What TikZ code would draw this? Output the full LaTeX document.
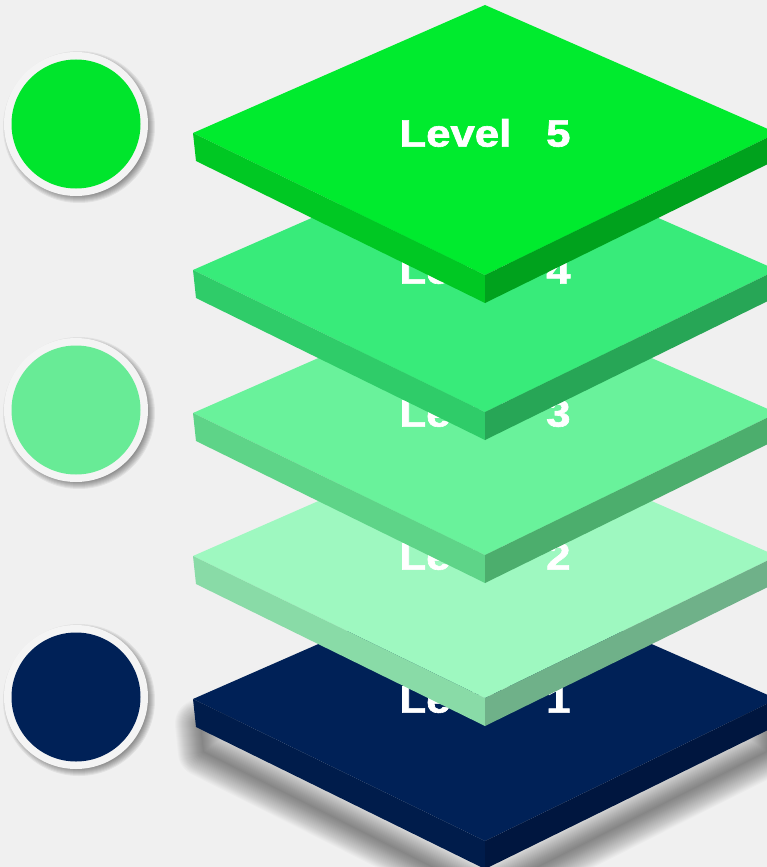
\documentclass[tikz,border=0pt]{standalone}
\usepackage{fontspec}
\setmainfont{Liberation Sans}[BoldFeatures={FakeBold=1.6}]

\definecolor{bgcol}{HTML}{F0F0F0}
\definecolor{ringcol}{HTML}{F4F4F4}
% mặt trên, mặt trái, mặt phải của từng tầng
\definecolor{top5}{HTML}{00EB2E}
\definecolor{lft5}{HTML}{00C823}
\definecolor{rgt5}{HTML}{00A21D}
\definecolor{top4}{HTML}{38EB7A}
\definecolor{lft4}{HTML}{2FCC69}
\definecolor{rgt4}{HTML}{27A656}
\definecolor{top3}{HTML}{69F29B}
\definecolor{lft3}{HTML}{5ED488}
\definecolor{rgt3}{HTML}{4CAE6D}
\definecolor{top2}{HTML}{9EF8C0}
\definecolor{lft2}{HTML}{89DBA7}
\definecolor{rgt2}{HTML}{6FB189}
\definecolor{top1}{HTML}{002157}
\definecolor{lft1}{HTML}{001C4B}
\definecolor{rgt1}{HTML}{00163F}
\definecolor{dotA}{HTML}{00E52C}
\definecolor{dotB}{HTML}{68EB96}
\definecolor{dotC}{HTML}{002157}

\begin{document}
\begin{tikzpicture}[x=1pt, y=-1pt,
		lvltext/.style={text=white, inner sep=0pt, font=\fontsize{38}{38}\selectfont\bfseries},
		ring/.style={circle, fill=ringcol, minimum size=144pt, inner sep=0pt},
		dot/.style={circle, minimum size=129pt, inner sep=0pt},
		shade/.style={black, opacity=0.02, line join=round}]
	% Nền
	\useasboundingbox[fill=bgcol] (0,0) rectangle (767,867);
	\clip (0,0) rectangle (767,867);
	
	% Bóng mờ dưới tầng đáy
	\fill[shade] (200,724) -- (485,596) -- (770,724) -- (767,752) -- (485,894) -- (203,752) -- cycle;
	\foreach \d in {2,4,...,50}
		\draw[shade, line width=\d pt] (200,724) -- (485,596) -- (770,724) -- (767,752) -- (485,894) -- (203,752) -- cycle;
	
	% Các tầng, từ dưới lên
	\foreach \n/\L in {1/699, 2/556, 3/413, 4/270, 5/133}{
		\fill[top\n] (193,\L) -- (485,\L-128) -- (777,\L) -- (485,\L+142) -- cycle;
		\fill[lft\n] (193,\L) -- (485,\L+142) -- (485,\L+170) -- (196,\L+28) -- cycle;
		\fill[rgt\n] (485,\L+142) -- (777,\L) -- (774,\L+28) -- (485,\L+170) -- cycle;
		\node[lvltext] (lvl\n) at (485,\L) {\scalebox{1.15}[1]{Level\hspace{0.8em}\n}};
	}
	
	% Vòng tròn bên trái
	\foreach \k/\cy/\col in {5/124/dotA, 3/410/dotB, 1/697/dotC}{
		\foreach \d in {0,1,...,7}
			\fill[black, opacity=0.06] (79,\cy+3) circle (69+\d);
		\node[ring] (ring\k) at (76,\cy) {};
		\node[dot, fill=\col] (dot\k) at (ring\k) {};
	}
\end{tikzpicture}
\end{document}
